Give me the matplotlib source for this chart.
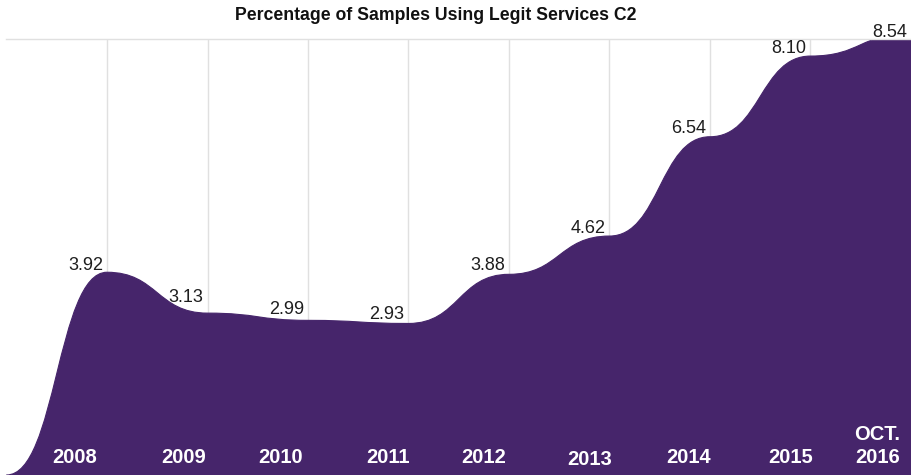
import matplotlib
matplotlib.use("Agg")
import matplotlib.pyplot as plt
from matplotlib.path import Path
from matplotlib.patches import PathPatch
from matplotlib.transforms import blended_transform_factory, offset_copy

plt.rcParams['font.family'] = ['Liberation Sans', 'DejaVu Sans']

# series: the curve starts from zero one year before the first labelled value
annees = [2007, 2008, 2009, 2010, 2011, 2012, 2013, 2014, 2015, 2016]
valeurs = [0, 3.92, 3.13, 2.99, 2.93, 3.88, 4.62, 6.54, 8.10, 8.54]
etiquettes = ["2008", "2009", "2010", "2011", "2012", "2013", "2014", "2015", "OCT.\n2016"]

# petits decalages (pixels) des textes
decal_valeurs = [2, 11, 6, 4, 4, 3, 4, 3, 2]
decal_annees_x = [-10, -2, -5, 1, -3, 3, 1, 3, -11]
decal_annees_y = [0, 0, 0, 0, 0, -2, 0, 0, 0]

violet = '#46256b'
ymax = 8.43

fig = plt.figure(figsize=(9.12, 4.75), dpi=100)
ax = fig.add_axes([6 / 912, 0, 906 / 912, 436 / 475])
ax.set_xlim(2006.995, 2016.01)
ax.set_ylim(0, ymax)

# courbe lissee type "bump" : tangente horizontale a chaque point
verts = [(annees[0], valeurs[0])]
codes = [Path.MOVETO]
for k in range(1, len(annees)):
    x0, y0 = annees[k - 1], valeurs[k - 1]
    x1, y1 = annees[k], valeurs[k]
    xm = (x0 + x1) / 2
    verts += [(xm, y0), (xm, y1), (x1, y1)]
    codes += [Path.CURVE4] * 3
verts += [(annees[-1], -1), (annees[0], -1), (annees[0], valeurs[0])]
codes += [Path.LINETO, Path.LINETO, Path.CLOSEPOLY]
ax.add_patch(PathPatch(Path(verts, codes), facecolor=violet, edgecolor=violet,
                       lw=0.8, zorder=2))

# grille verticale
ax.vlines(annees[1:-1], 0, ymax, color='#e0e0e0', lw=1, zorder=1)
for cote in ['left', 'right', 'bottom']:
    ax.spines[cote].set_visible(False)
ax.spines['top'].set_color('#e0e0e0')
ax.spines['top'].set_linewidth(1)
ax.set_xticks([])
ax.set_yticks([])

# valeurs au dessus de la courbe
for x, v, dy in zip(annees[1:], valeurs[1:], decal_valeurs):
    ax.annotate(f"{v:.2f}", xy=(x, min(v, ymax)), xytext=(-4, dy),
                textcoords='offset pixels', ha='right', va='baseline',
                fontsize=13, color='#1e1e1e', annotation_clip=False, zorder=3)

# annees en blanc en bas
base = blended_transform_factory(ax.transData, ax.transAxes)
for x, lab, dx, dy in zip(annees[1:], etiquettes, decal_annees_x, decal_annees_y):
    trans = offset_copy(base, fig=fig, x=dx, y=dy, units='dots')
    ax.text(x, 8 / 436, lab, transform=trans, ha='right', va='bottom',
            multialignment='right', fontsize=14.5, fontweight='bold',
            color='white', zorder=4, linespacing=1.3)

fig.text(436 / 912, 1 - 15 / 475, "Percentage of Samples Using Legit Services C2",
         ha='center', va='center', fontsize=12.7, fontweight='bold', color='#111111')

fig.savefig('out.png', dpi=100)
